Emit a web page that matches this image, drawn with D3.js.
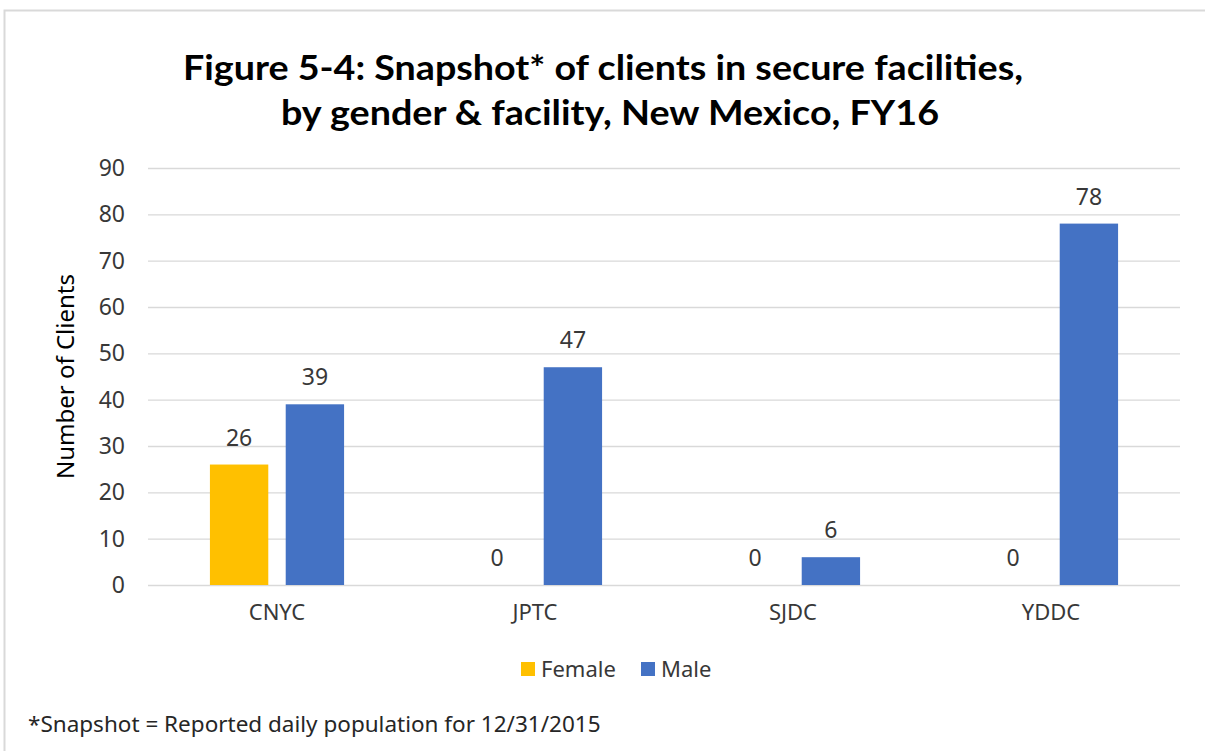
<!DOCTYPE html>
<html>
<head>
<meta charset="utf-8">
<script src="https://cdn.jsdelivr.net/npm/d3@7"></script>
<style>
  body { margin: 0; background: #fff; }
  svg { display: block; }
</style>
</head>
<body>
<div id="chart"></div>
<script>
const facilities = ["CNYC", "JPTC", "SJDC", "YDDC"];
const seriesNames = ["Female", "Male"];
const female = [26, 0, 0, 0];
const male = [39, 47, 6, 78];
const yTicks = [0, 10, 20, 30, 40, 50, 60, 70, 80, 90];
const titleLines = [
  "Figure 5-4: Snapshot* of clients in secure facilities,",
  "by gender & facility, New Mexico, FY16",
];
const footnote = "*Snapshot = Reported daily population for 12/31/2015";

const W = 1205, H = 751;
const colors = { Female: "#ffc000", Male: "#4472c4" };
const textColor = "#383838";
const bodyFont = "'Noto Sans', 'Open Sans', sans-serif";

const rows = facilities.map((f, i) => ({ facility: f, Female: female[i], Male: male[i] }));

const svg = d3.select("#chart")
  .append("svg")
  .attr("width", W)
  .attr("height", H);

// chart frame
svg.append("rect")
  .attr("x", 4.5).attr("y", 10.5)
  .attr("width", W + 10).attr("height", H + 10)
  .attr("fill", "#fff")
  .attr("stroke", "#d9d9d9")
  .attr("stroke-width", 2);

// title
const titleWidths = [840, 658];
const titleX = [183, 281];
svg.append("g")
  .selectAll("text")
  .data(titleLines)
  .join("text")
  .attr("x", (d, i) => titleX[i])
  .attr("y", (d, i) => 80 + i * 45)
  .attr("textLength", (d, i) => titleWidths[i])
  .attr("lengthAdjust", "spacingAndGlyphs")
  .attr("font-family", "'Liberation Sans Narrow', Lato, sans-serif")
  .attr("font-weight", "bold")
  .attr("font-size", 35)
  .attr("fill", "#000")
  .text((d) => d);

const plot = { left: 148, right: 1180, top: 168, bottom: 585 };

const y = d3.scaleLinear().domain([0, 90]).range([plot.bottom, plot.top]);
const x0 = d3.scaleBand()
  .domain(facilities)
  .range([plot.left, plot.right])
  .paddingInner(0.48)
  .paddingOuter(0.24);
const x1 = d3.scaleBand()
  .domain(seriesNames)
  .range([0, x0.bandwidth()])
  .paddingInner(0.23);

// gridlines
svg.append("g")
  .selectAll("line")
  .data(yTicks)
  .join("line")
  .attr("x1", plot.left)
  .attr("x2", plot.right)
  .attr("y1", (d) => y(d) + 0.5)
  .attr("y2", (d) => y(d) + 0.5)
  .attr("stroke", "#d9d9d9")
  .attr("stroke-width", 1.3);

// y axis
const yAxis = svg.append("g")
  .attr("transform", `translate(${plot.left - 10},0)`)
  .call(d3.axisLeft(y).tickValues(yTicks).tickSize(0).tickPadding(13));
yAxis.select(".domain").remove();
yAxis.selectAll("text")
  .attr("font-family", bodyFont)
  .attr("font-size", 23)
  .attr("fill", textColor);

svg.append("text")
  .attr("transform", `translate(74,${(plot.top + plot.bottom) / 2}) rotate(-90)`)
  .attr("text-anchor", "middle")
  .attr("font-family", bodyFont)
  .attr("font-size", 24)
  .attr("fill", "#000")
  .text("Number of Clients");

// x axis
const xAxis = svg.append("g")
  .attr("transform", `translate(0,${plot.bottom})`)
  .call(d3.axisBottom(x0).tickSize(0).tickPadding(19));
xAxis.select(".domain").remove();
xAxis.selectAll("text")
  .attr("font-family", bodyFont)
  .attr("font-size", 22)
  .attr("fill", textColor);

// bars
const groups = svg.append("g")
  .selectAll("g")
  .data(rows)
  .join("g")
  .attr("transform", (d) => `translate(${x0(d.facility)},0)`);

const cells = groups.selectAll("g")
  .data((d) => seriesNames.map((s) => ({ key: s, value: d[s] })))
  .join("g");

cells.append("rect")
  .attr("x", (d) => x1(d.key))
  .attr("y", (d) => y(d.value))
  .attr("width", x1.bandwidth())
  .attr("height", (d) => y(0) - y(d.value))
  .attr("fill", (d) => colors[d.key]);

cells.append("text")
  .attr("x", (d) => x1(d.key) + x1.bandwidth() / 2)
  .attr("y", (d) => y(d.value) - 19)
  .attr("text-anchor", "middle")
  .attr("font-family", bodyFont)
  .attr("font-size", 23)
  .attr("fill", textColor)
  .text((d) => d.value);

// legend
const legendX = [521, 641];
const legend = svg.append("g")
  .selectAll("g")
  .data(seriesNames)
  .join("g")
  .attr("transform", (d, i) => `translate(${legendX[i]},662)`);
legend.append("rect")
  .attr("width", 14)
  .attr("height", 14)
  .attr("fill", (d) => colors[d]);
legend.append("text")
  .attr("x", 20)
  .attr("y", 15)
  .attr("font-family", bodyFont)
  .attr("font-size", 22)
  .attr("fill", textColor)
  .text((d) => d);

// footnote
svg.append("text")
  .attr("x", 28)
  .attr("y", 732)
  .attr("font-family", bodyFont)
  .attr("font-size", 22.5)
  .attr("fill", "#262626")
  .text(footnote);
</script>
</body>
</html>
